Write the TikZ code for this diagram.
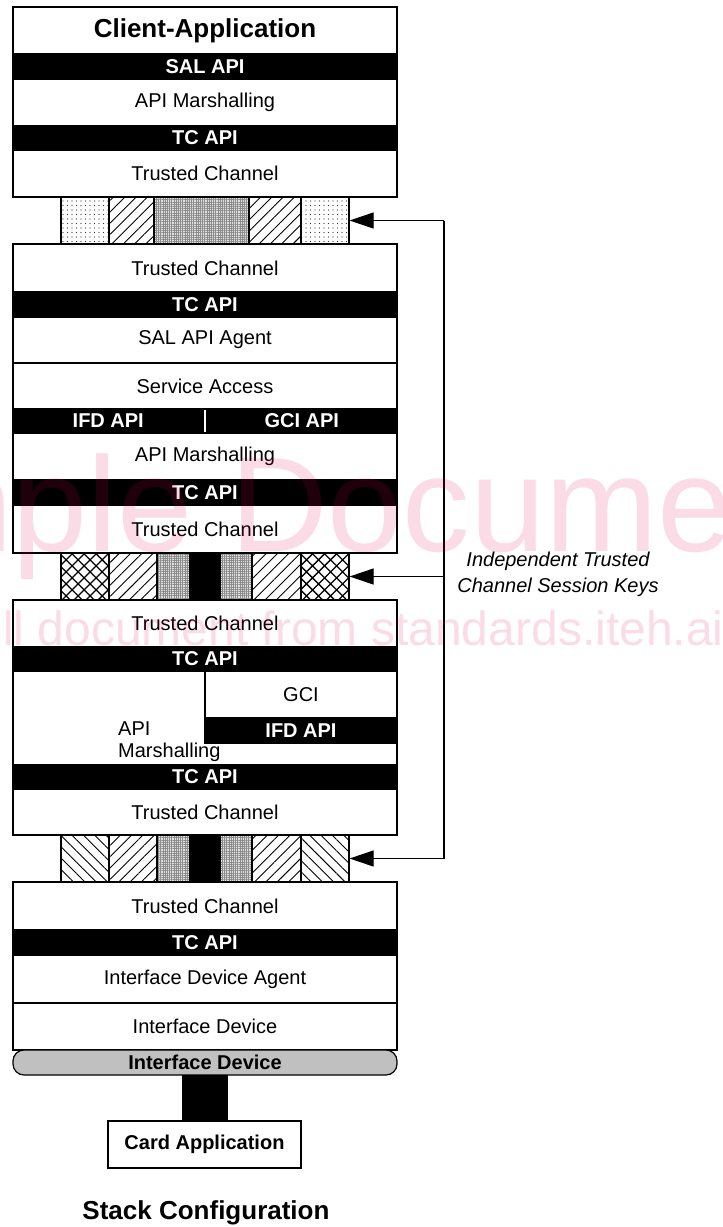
\documentclass[tikz,border=0pt]{standalone}
\usepackage{fontspec}
\setmainfont{Liberation Sans}
\usetikzlibrary{patterns.meta,arrows.meta}
\definecolor{wm}{RGB}{230,0,80}
\definecolor{pillgray}{RGB}{192,192,192}
\tikzset{
  cell/.style={draw, line width=1.2pt, fill=white, inner sep=0pt, minimum width=384pt,
    font=\fontsize{20}{24}\selectfont},
  bar/.style={draw, line width=1.2pt, fill=black, text=white, inner sep=0pt, minimum width=384pt,
    font=\fontsize{20}{24}\selectfont\bfseries},
  bcell/.style={draw, line width=1.2pt, inner sep=0pt, minimum height=47pt},
  sdots/.style={preaction={fill=white}, pattern={Dots[distance=4.5pt,radius=0.55pt]}, pattern color=black!80},
  gdots/.style={preaction={fill=black!12}, pattern={Hatch[angle=0,distance=2.2pt,line width=0.55pt]}, pattern color=black!45},
  ne/.style={preaction={fill=white}, pattern={Lines[angle=45,distance=8pt,line width=0.9pt]}},
  nw/.style={preaction={fill=white}, pattern={Lines[angle=-45,distance=8pt,line width=0.9pt]}},
  xh/.style={preaction={fill=white}, pattern={Hatch[angle=45,distance=8.5pt,line width=1.3pt]}},
  blk/.style={fill=black},
  keyarrow/.style={line width=1.2pt, -{Triangle[length=24pt,width=16pt]}},
  keyline/.style={line width=1.2pt},
  wmark/.style={anchor=base west, inner sep=0pt, text=wm, opacity=0.14},
}
\begin{document}
\begin{tikzpicture}[x=1pt,y=-1pt]
\useasboundingbox (0,0) rectangle (723,1227);
\fill[white] (0,0) rectangle (723,1227);

% ---------- Stack 1 ----------
\node[cell, minimum height=47pt, font=\fontsize{26}{30}\selectfont\bfseries] (client) at (205,30.5) {Client-Application};
\node[bar, minimum height=25pt] (salapi) at (205,66.5) {SAL API};
\node[cell, minimum height=47pt] (marsh1) at (205,102.5) {API Marshalling};
\node[bar, minimum height=24pt] (tcapi1) at (205,138) {TC API};
\node[cell, minimum height=47pt] (tc1) at (205,173.5) {Trusted Channel};

% ---------- Band 1 ----------
\node[bcell, sdots, minimum width=48pt] (b1a) at (85,220.5) {};
\node[bcell, ne, minimum width=45pt] (b1b) at (131.5,220.5) {};
\node[bcell, gdots, minimum width=95pt] (b1c) at (201.5,220.5) {};
\node[bcell, ne, minimum width=52pt] (b1d) at (275,220.5) {};
\node[bcell, sdots, minimum width=48pt] (b1e) at (325,220.5) {};

% ---------- Stack 2 ----------
\node[cell, minimum height=48pt] (tc2) at (205,268) {Trusted Channel};
\node[bar, minimum height=25pt] (tcapi2) at (205,304.5) {TC API};
\node[cell, minimum height=46pt] (salagent) at (205,340) {SAL API Agent};
\node[cell, minimum height=46pt] (service) at (205,386) {Service Access};
\node[bar, minimum height=24pt, minimum width=190.5pt] (ifdapi1) at (108.25,421) {IFD API};
\node[bar, minimum height=24pt, minimum width=190.5pt] (gciapi) at (301.75,421) {GCI API};
\node[cell, minimum height=47pt] (marsh2) at (205,456.5) {API Marshalling};
\node[bar, minimum height=25pt] (tcapi3) at (205,492.5) {TC API};
\node[cell, minimum height=48pt] (tc3) at (205,529) {Trusted Channel};

% ---------- Band 2 ----------
\node[bcell, xh, minimum width=48pt] (b2a) at (85,576.5) {};
\node[bcell, ne, minimum width=48pt] (b2b) at (133,576.5) {};
\node[bcell, gdots, minimum width=33pt] (b2c) at (173.5,576.5) {};
\node[bcell, blk, minimum width=30pt] (b2d) at (205,576.5) {};
\node[bcell, gdots, minimum width=32pt] (b2e) at (236,576.5) {};
\node[bcell, ne, minimum width=49pt] (b2f) at (276.5,576.5) {};
\node[bcell, xh, minimum width=48pt] (b2g) at (325,576.5) {};

% ---------- Stack 3 ----------
\node[cell, minimum height=47pt] (tc4) at (205,623.5) {Trusted Channel};
\node[bar, minimum height=24pt] (tcapi4) at (205,659) {TC API};
\node[cell, minimum height=94pt] (marsh3) at (205,718) {};
\node[cell, minimum height=47pt, minimum width=192pt] (gci) at (301,694.5) {GCI};
\node[bar, minimum height=25pt, minimum width=192pt] (ifdapi2) at (301,730.5) {IFD API};
\node[anchor=west, align=left, inner sep=0pt, font=\fontsize{20}{22}\selectfont] (marsh3txt) at (118,742) {API\\Marshalling};
\node[bar, minimum height=24pt] (tcapi5) at (205,777) {TC API};
\node[cell, minimum height=46pt] (tc5) at (205,812) {Trusted Channel};

% ---------- Band 3 ----------
\node[bcell, nw, minimum width=48pt] (b3a) at (85,858.5) {};
\node[bcell, ne, minimum width=48pt] (b3b) at (133,858.5) {};
\node[bcell, gdots, minimum width=33pt] (b3c) at (173.5,858.5) {};
\node[bcell, blk, minimum width=30pt] (b3d) at (205,858.5) {};
\node[bcell, gdots, minimum width=32pt] (b3e) at (236,858.5) {};
\node[bcell, ne, minimum width=49pt] (b3f) at (276.5,858.5) {};
\node[bcell, nw, minimum width=48pt] (b3g) at (325,858.5) {};

% ---------- Stack 4 ----------
\node[cell, minimum height=48pt] (tc6) at (205,906) {Trusted Channel};
\node[bar, minimum height=25pt] (tcapi6) at (205,942.5) {TC API};
\node[cell, minimum height=48pt] (ifdagent) at (205,979) {Interface Device Agent};
\node[cell, minimum height=47pt] (ifd) at (205,1026.5) {Interface Device};
\node[draw, line width=1.2pt, fill=pillgray, rounded corners=11pt, inner sep=0pt,
      minimum width=384pt, minimum height=25pt, font=\fontsize{20}{24}\selectfont\bfseries] (pill) at (205,1062.5) {Interface Device};
\node[fill=black, inner sep=0pt, minimum width=46pt, minimum height=46pt] (link) at (205,1098) {};
\node[draw, line width=1.2pt, fill=white, inner sep=0pt, minimum width=193pt, minimum height=47pt,
      font=\fontsize{20}{24}\selectfont\bfseries] (card) at (204.5,1144.5) {Card Application};
\node[font=\fontsize{26}{30}\selectfont\bfseries, inner sep=0pt] (caption) at (206,1213) {Stack Configuration};

% ---------- Session key arrows ----------
\coordinate (vtop) at (444,220.5);
\coordinate (vmid) at (444,576.5);
\coordinate (vbot) at (444,858.5);
\draw[keyline] (vtop) -- (vbot);
\draw[keyarrow] (vtop) -- (b1e.east);
\draw[keyarrow] (vmid) -- (b2g.east);
\draw[keyarrow] (vbot) -- (b3g.east);
\node[align=center, inner sep=0pt, font=\fontsize{20}{26}\selectfont\itshape] (keys) at (558,574) {Independent Trusted\\Channel Session Keys};

% ---------- Watermark ----------
\begin{scope}
\clip (0,0) rectangle (723,1227);
\node[wmark, font=\fontsize{135}{135}\selectfont] (wm1) at (-265,551) {Sample Document};
\node[wmark, font=\fontsize{48}{48}\selectfont] (wm2) at (-53,645) {Full document from standards.iteh.ai};
\end{scope}
\end{tikzpicture}
\end{document}
